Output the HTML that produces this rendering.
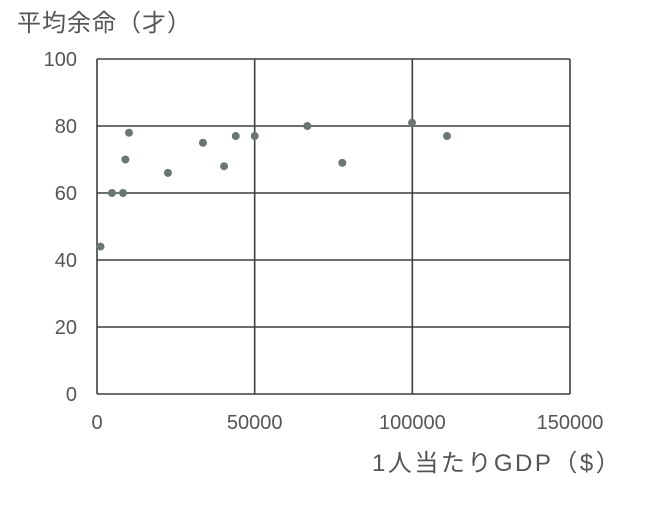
<!DOCTYPE html>
<html><head><meta charset="utf-8">
<style>
html,body{margin:0;padding:0;background:#fff;}
svg text{font-family:"Liberation Sans","Noto Sans CJK JP",sans-serif;fill:#555;}
</style></head>
<body>
<svg id="chart" width="664" height="500" viewBox="0 0 664 500" xmlns="http://www.w3.org/2000/svg">
<rect width="664" height="500" fill="#fff"/>
<text x="17" y="31" font-size="24" letter-spacing="1">平均余命（才）</text>
<text x="372" y="471" font-size="24" letter-spacing="2.5">1人当たりGDP（$）</text>
<g id="grid"></g>
<g id="ticks"></g>
<g id="points"></g>
</svg>
<script>
const gdp = [1100, 4750, 8250, 9000, 10150, 22500, 33600, 40300, 44000, 50000, 66700, 77800, 99900, 111000];
const lifeExp = [44, 60, 60, 70, 78, 66, 75, 68, 77, 77, 80, 69, 81, 77];
const xTicks = [0, 50000, 100000, 150000];
const yTicks = [0, 20, 40, 60, 80, 100];
const L=97,R=570,T=59,B=394;
const sx=v=>L+(v/150000)*(R-L);
const sy=v=>B-(v/100)*(B-T);
const NS="http://www.w3.org/2000/svg";
const grid=document.getElementById('grid'),ticks=document.getElementById('ticks'),pts=document.getElementById('points');
function mk(tag,attrs,parent){const e=document.createElementNS(NS,tag);for(const k in attrs)e.setAttribute(k,attrs[k]);parent.appendChild(e);return e;}
yTicks.forEach(v=>{
  const l=mk('line',{x1:L,x2:R,y1:sy(v),y2:sy(v),stroke:'#3a403d','stroke-width':1.6},grid);
  
  
  const t=mk('text',{x:77,y:sy(v)+7,'text-anchor':'end','font-size':20},ticks);
  t.textContent=v;
  
  
});
xTicks.forEach(v=>{
  const l=mk('line',{x1:sx(v),x2:sx(v),y1:T,y2:B,stroke:'#3a403d','stroke-width':1.6},grid);
  
  
  const t=mk('text',{x:sx(v),y:429,'text-anchor':'middle','font-size':20},ticks);
  t.textContent=v;
  
  
});
gdp.forEach((g,i)=>{
  const c=mk('circle',{cx:sx(g),cy:sy(lifeExp[i]),r:4,fill:'#6b7672'},pts);
  
  
});
</script>
</body></html>
